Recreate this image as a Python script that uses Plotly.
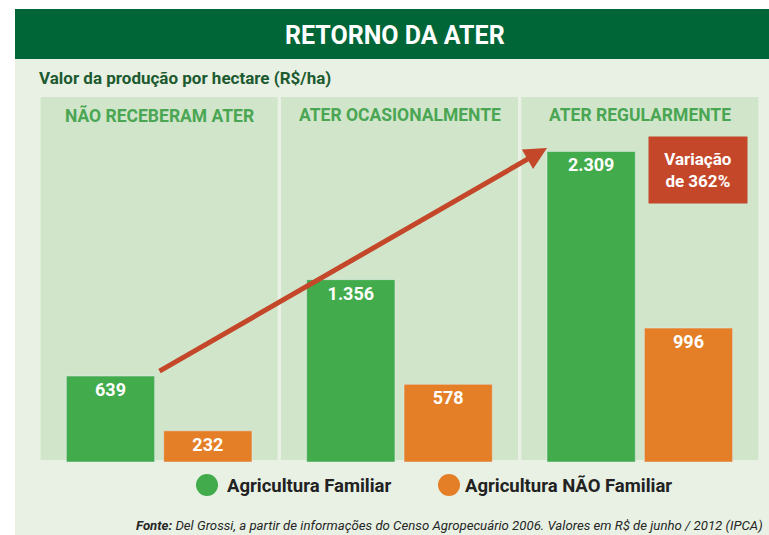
import plotly.graph_objects as go

# ---- data ----
categories = ["NÃO RECEBERAM ATER", "ATER OCASIONALMENTE", "ATER REGULARMENTE"]
familiar = [639, 1356, 2309]
nao_familiar = [232, 578, 996]
series_names = ["Agricultura Familiar", "Agricultura NÃO Familiar"]
title_text = "RETORNO DA ATER"
subtitle_text = "Valor da produção por hectare (R$/ha)"
variation_text = "Variação<br>de 362%"
source_text = ("<b>Fonte:</b> Del Grossi, a partir de informações do Censo Agropecuário 2006. "
               "Valores em R$ de junho / 2012 (IPCA)")

# ---- style ----
W, H = 769, 535
ML, MR, MT, MB = 39, 9, 97, 73
GREEN = "#42ab4b"
ORANGE = "#e47f27"
DARK = "#006637"
LIGHT_BG = "#e8f1e4"
PANEL = "#d1e5cb"
RED = "#c4472a"
FONT = "Roboto, sans-serif"

PW = W - ML - MR
PH = H - MT - MB


def px(x):
    return (x - ML) / PW


def py(y):
    return (H - MB - y) / PH


fig = go.Figure()
for vals, name, col in [(familiar, series_names[0], GREEN),
                        (nao_familiar, series_names[1], ORANGE)]:
    fig.add_trace(go.Bar(
        x=categories, y=vals, name=name, marker_color=col,
        texttemplate="%{y:,}", textposition="inside", insidetextanchor="end",
        textangle=0, constraintext="none",
        textfont=dict(color="white", size=18, family=FONT, weight="bold"),
        showlegend=False,
    ))

shapes = []
# outer light background
shapes.append(dict(type="rect", xref="paper", yref="paper", layer="below",
                   x0=px(15), x1=px(769), y0=py(535), y1=py(59),
                   fillcolor=LIGHT_BG, line_width=0))
# title banner
shapes.append(dict(type="rect", xref="paper", yref="paper", layer="below",
                   x0=px(15), x1=px(769), y0=py(59), y1=py(9),
                   fillcolor=DARK, line_width=0))
# panels
for i in range(len(categories)):
    shapes.append(dict(type="rect", xref="x", yref="paper", layer="below",
                       x0=i - 0.5 + 0.007, x1=i + 0.5 - 0.007, y0=py(460), y1=1,
                       fillcolor=PANEL, line_width=0))
# legend circles
shapes.append(dict(type="circle", xref="paper", yref="paper",
                   x0=px(196), x1=px(218), y0=py(496), y1=py(474),
                   fillcolor=GREEN, line_width=0))
shapes.append(dict(type="circle", xref="paper", yref="paper",
                   x0=px(438), x1=px(460), y0=py(496), y1=py(474),
                   fillcolor=ORANGE, line_width=0))

annotations = []
annotations.append(dict(text=f"<b>{title_text}</b>", xref="paper", yref="paper",
                        x=px(395), y=py(36), xanchor="center", yanchor="middle",
                        showarrow=False,
                        font=dict(color="white", size=25, family=FONT)))
annotations.append(dict(text=f"<b>{subtitle_text}</b>", xref="paper", yref="paper",
                        x=px(37), y=py(78), xanchor="left", yanchor="middle",
                        showarrow=False,
                        font=dict(color="#1d5a30", size=17, family=FONT)))
for c in categories:
    annotations.append(dict(text=f"<b>{c}</b>", x=c, xref="x", yref="paper",
                            y=py(115), xanchor="center", yanchor="middle",
                            showarrow=False,
                            font=dict(color="#4aa653", size=17.5, family=FONT)))
# arrow
annotations.append(dict(text="", xref="paper", yref="paper",
                        x=px(547), y=py(148), ax=158 - 547, ay=372 - 148,
                        showarrow=True, arrowhead=2, arrowsize=0.9, arrowwidth=5,
                        arrowcolor=RED, standoff=0))
# variation box
annotations.append(dict(text=f"<b>{variation_text}</b>", xref="paper", yref="paper",
                        x=px(698), y=py(170), xanchor="center", yanchor="middle",
                        showarrow=False, width=96, height=64, bgcolor=RED,
                        font=dict(color="white", size=17, family=FONT)))
# legend text
annotations.append(dict(text=f"<b>{series_names[0]}</b>", xref="paper", yref="paper",
                        x=px(225), y=py(486), xanchor="left", yanchor="middle",
                        showarrow=False,
                        font=dict(color="#222222", size=18.5, family=FONT)))
annotations.append(dict(text=f"<b>{series_names[1]}</b>", xref="paper", yref="paper",
                        x=px(463), y=py(486), xanchor="left", yanchor="middle",
                        showarrow=False,
                        font=dict(color="#222222", size=18.5, family=FONT)))
# source
annotations.append(dict(text=f"<i>{source_text}</i>", xref="paper", yref="paper",
                        x=px(765), y=py(525), xanchor="right", yanchor="middle",
                        showarrow=False,
                        font=dict(color="#262626", size=13.2, family=FONT)))

fig.update_layout(
    width=W, height=H, autosize=False,
    margin=dict(l=ML, r=MR, t=MT, b=MB),
    paper_bgcolor="white", plot_bgcolor="rgba(0,0,0,0)",
    barmode="group", bargap=0.19, bargroupgap=0.093,
    separators=",.",
    shapes=shapes, annotations=annotations,
    xaxis=dict(showticklabels=False, showgrid=False, zeroline=False, fixedrange=True),
    yaxis=dict(range=[0, 2714], showticklabels=False, showgrid=False,
               zeroline=False, fixedrange=True),
    showlegend=False,
)

fig.write_html("out.html", config={"displayModeBar": False},
               post_script="document.body.style.margin='0';")
